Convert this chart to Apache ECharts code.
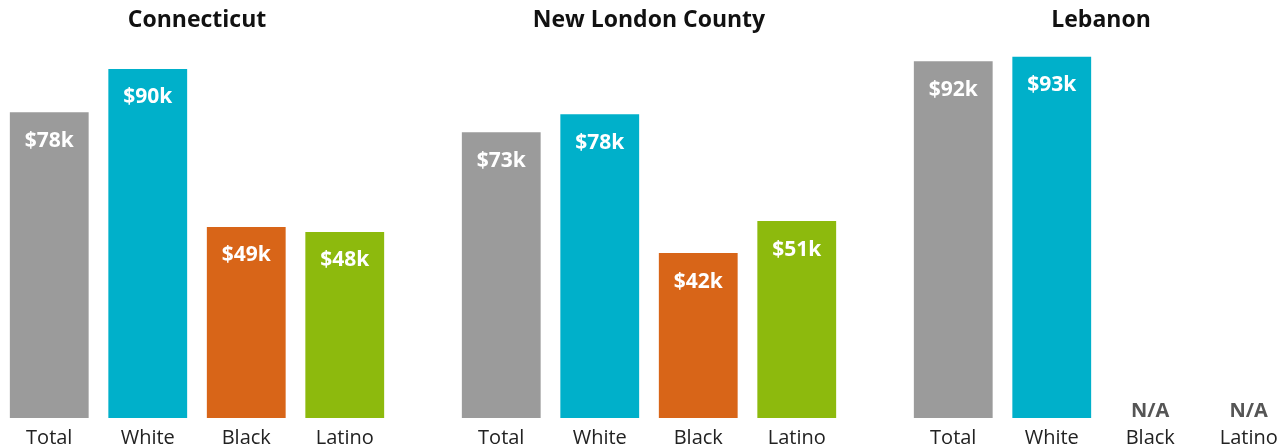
<!DOCTYPE html>
<html>
<head>
<meta charset="utf-8">
<script src="https://cdn.jsdelivr.net/npm/echarts@6/dist/echarts.min.js"></script>
<style>
html,body{margin:0;padding:0;background:#fff;overflow:hidden;}
#chart{width:1300px;height:448px;}
</style>
</head>
<body>
<div id="chart"></div>
<script>
var categories = ['Total', 'White', 'Black', 'Latino'];
var regions = ['Connecticut', 'New London County', 'Lebanon'];
var connecticutValues = [78.4, 89.5, 49.0, 47.7];
var newLondonValues = [73.3, 77.9, 42.3, 50.5];
var lebanonValues = [91.5, 92.6, null, null];
var barColors = ['#9b9b9b', '#00b0ca', '#d86518', '#8dba0d'];

var FONT = '"Open Sans", "Noto Sans", sans-serif';
var allValues = [connecticutValues, newLondonValues, lebanonValues];
var panelLefts = [0, 452, 904];
var panelWidth = 394;

var chart = echarts.init(document.getElementById('chart'));

function buildData(vals) {
  return vals.map(function (v, i) {
    if (v === null) {
      return {
        value: 0,
        itemStyle: { color: barColors[i] },
        label: {
          show: true, position: 'top', distance: -3,
          formatter: 'N/A', color: '#555555',
          fontFamily: FONT, fontWeight: 'bold', fontSize: 20
        }
      };
    }
    return { value: v, itemStyle: { color: barColors[i] } };
  });
}

var option = {
  animation: false,
  backgroundColor: '#ffffff',
  title: regions.map(function (r, k) {
    return {
      text: r,
      left: panelLefts[k] + panelWidth / 2,
      textAlign: 'center',
      top: 9,
      padding: 0,
      textStyle: { fontFamily: FONT, fontWeight: 'bold', fontSize: 23, color: '#111111' }
    };
  }),
  grid: panelLefts.map(function (l) {
    return { left: l, width: panelWidth, top: 28, height: 390, containLabel: false };
  }),
  xAxis: panelLefts.map(function (l, k) {
    return {
      type: 'category', gridIndex: k, data: categories,
      axisLine: { show: false }, axisTick: { show: false },
      axisLabel: { color: '#222222', fontFamily: FONT, fontSize: 20, margin: 10 }
    };
  }),
  yAxis: panelLefts.map(function (l, k) {
    return {
      type: 'value', gridIndex: k, min: 0, max: 100, show: false,
      splitLine: { show: false }
    };
  }),
  series: allValues.map(function (vals, k) {
    return {
      type: 'bar', xAxisIndex: k, yAxisIndex: k,
      barWidth: '80%',
      data: buildData(vals),
      label: {
        show: true, position: 'insideTop', distance: 18,
        color: '#ffffff', fontFamily: FONT, fontWeight: 'bold', fontSize: 21,
        formatter: function (p) { return '$' + Math.round(p.value) + 'k'; }
      }
    };
  })
};
chart.setOption(option);
</script>
</body>
</html>
